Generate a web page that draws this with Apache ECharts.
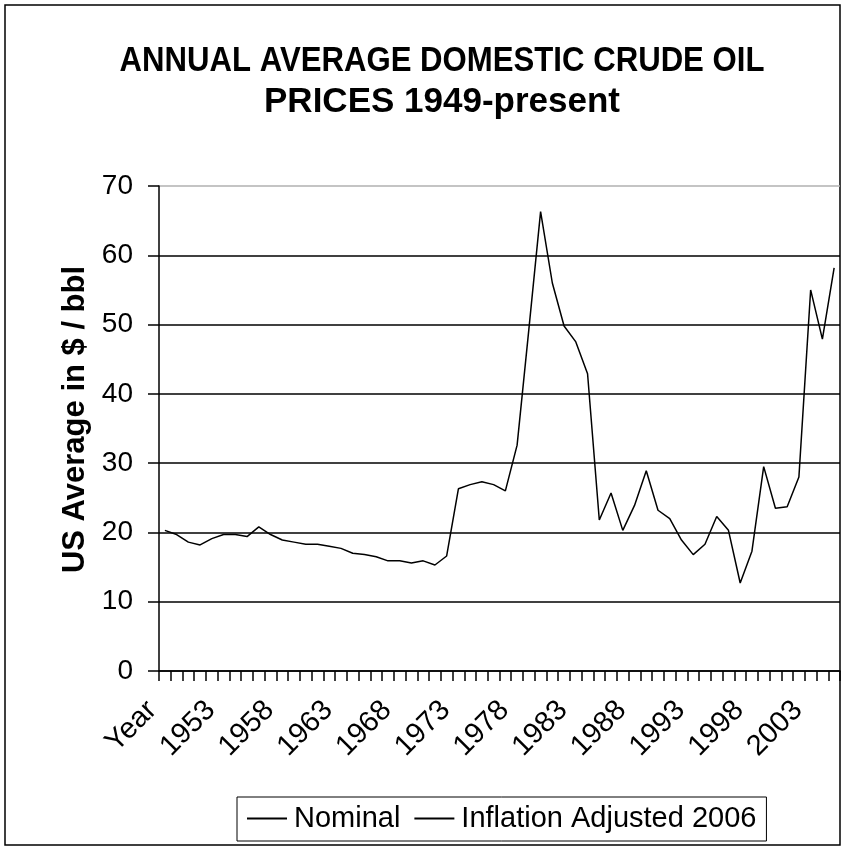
<!DOCTYPE html>
<html>
<head>
<meta charset="utf-8">
<script src="https://cdn.jsdelivr.net/npm/echarts@6/dist/echarts.min.js"></script>
<style>
html,body{margin:0;padding:0;background:#fff;}
#chart{width:846px;height:848px;}
</style>
</head>
<body>
<div id="chart"></div>
<script>
// Category labels: first cell is the header "Year", then 1949..2005
const categories = ["Year"];
for (let y = 1949; y <= 2005; y++) categories.push(String(y));

// Inflation adjusted (2006 $/bbl)
const inflationAdjusted = [
  20.3, 19.7, 18.6, 18.2, 19.1, 19.7, 19.7, 19.4, 20.8, 19.7,
  18.9, 18.6, 18.3, 18.3, 18.0, 17.7, 17.0, 16.8, 16.5, 15.9,
  15.9, 15.6, 15.9, 15.3, 16.6, 26.3, 26.9, 27.3, 26.9, 26.0,
  32.6, 49.3, 66.3, 56.0, 49.8, 47.5, 42.9, 21.8, 25.7, 20.3,
  23.9, 28.9, 23.2, 22.0, 18.9, 16.8, 18.3, 22.3, 20.3, 12.7,
  17.3, 29.5, 23.5, 23.7, 28.0, 55.0, 47.9, 58.2
];
// Nominal series is listed in the legend but not drawn in the picture
const nominal = [];

const titleLines = ['ANNUAL AVERAGE DOMESTIC CRUDE OIL', 'PRICES 1949-present'];

const FONT = 'Liberation Sans, Arial, sans-serif';
const chart = echarts.init(document.getElementById('chart'), null, {renderer: 'canvas'});
chart.setOption({
  animation: false,
  backgroundColor: '#fff',
  graphic: [
    {
      type: 'rect',
      shape: {x: 5, y: 5, width: 835, height: 840},
      style: {fill: 'none', stroke: '#000', lineWidth: 1.5},
      silent: true
    },
    {
      type: 'text', x: 442, y: 44, scaleX: 0.89, silent: true,
      style: {text: titleLines[0], x: 0, y: 0, align: 'center', verticalAlign: 'top',
              font: 'bold 35px ' + FONT, fill: '#000'}
    },
    {
      type: 'text', x: 442, y: 85, scaleX: 1.0, silent: true,
      style: {text: titleLines[1], x: 0, y: 0, align: 'center', verticalAlign: 'top',
              font: 'bold 35px ' + FONT, fill: '#000'}
    }
  ],
  legend: {
    data: ['Nominal', 'Inflation Adjusted 2006'],
    left: 237,
    top: 797,
    padding: [7, 10, 8, 10],
    itemGap: 14,
    itemWidth: 40,
    itemHeight: 2,
    borderColor: '#000',
    borderWidth: 1,
    textStyle: {fontFamily: FONT, fontSize: 29, color: '#000', padding: [0,0,0,2]},
    icon: 'rect'
  },
  grid: {left: 159, top: 186, right: 6, bottom: 177, containLabel: false},
  xAxis: {
    type: 'category',
    data: categories,
    boundaryGap: true,
    axisLine: {show: true, lineStyle: {color: '#000', width: 1.5}},
    axisTick: {show: true, interval: 0, length: 10, lineStyle: {color: '#000', width: 1.5}},
    axisLabel: {interval: 4, rotate: 45, margin: 22, padding: [0, 18, 0, 0], fontFamily: FONT, fontSize: 29, color: '#000'},
    splitLine: {show: false}
  },
  yAxis: {
    type: 'value',
    min: 0, max: 70, interval: 10,
    name: 'US Average in $ / bbl',
    nameLocation: 'middle',
    nameGap: 54,
    nameTextStyle: {fontFamily: FONT, fontWeight: 'bold', fontSize: 31, color: '#000', padding: [0, 0, 0, 18]},
    axisLine: {show: true, lineStyle: {color: '#000', width: 1.5}},
    axisTick: {show: true, length: 11, lineStyle: {color: '#000', width: 1.5}},
    axisLabel: {margin: 26, fontFamily: FONT, fontSize: 28, color: '#000'},
    splitLine: {show: true, lineStyle: {color: ['#000','#000','#000','#000','#000','#000','#000','#b0b0b0'], width: 1.5}}
  },
  series: [
    {name: 'Nominal', type: 'line', data: nominal, symbol: 'none', itemStyle: {color: '#000'}, lineStyle: {color: '#000', width: 1.5}},
    {name: 'Inflation Adjusted 2006', type: 'line', data: inflationAdjusted, symbol: 'none', itemStyle: {color: '#000'}, lineStyle: {color: '#000', width: 1.5}}
  ]
});
</script>
</body>
</html>
